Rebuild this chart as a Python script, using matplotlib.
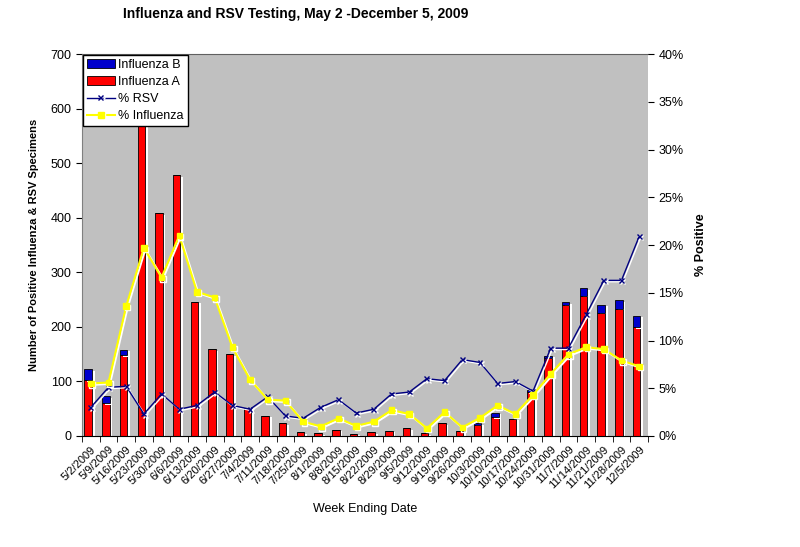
import matplotlib
matplotlib.use("Agg")
import matplotlib.pyplot as plt
import matplotlib.patheffects as pe
import numpy as np

plt.rcParams['font.family'] = ['Liberation Sans', 'DejaVu Sans']

# weekly data
weeks = ["5/2/2009", "5/9/2009", "5/16/2009", "5/23/2009", "5/30/2009", "6/6/2009",
         "6/13/2009", "6/20/2009", "6/27/2009", "7/4/2009", "7/11/2009", "7/18/2009",
         "7/25/2009", "8/1/2009", "8/8/2009", "8/15/2009", "8/22/2009", "8/29/2009",
         "9/5/2009", "9/12/2009", "9/19/2009", "9/26/2009", "10/3/2009", "10/10/2009",
         "10/17/2009", "10/24/2009", "10/31/2009", "11/7/2009", "11/14/2009",
         "11/21/2009", "11/28/2009", "12/5/2009"]
flu_a = [102, 60, 148, 590, 408, 478, 246, 159, 150, 51, 37, 23, 7, 5, 11, 4,
         7, 9, 14, 5, 23, 9, 20, 34, 31, 80, 143, 240, 257, 226, 233, 199]
flu_b = [20, 13, 10, 0, 0, 0, 0, 0, 0, 0, 0, 0, 0, 0, 0, 0,
         0, 0, 0, 0, 0, 0, 3, 8, 0, 4, 4, 5, 14, 14, 16, 21]
pct_rsv = [3.0, 5.1, 5.2, 2.3, 4.4, 2.8, 3.2, 4.6, 3.2, 2.8, 4.1, 2.1, 1.85, 3.0, 3.8, 2.4,
           2.8, 4.4, 4.6, 6.0, 5.8, 8.0, 7.7, 5.5, 5.7, 4.7, 9.2, 9.2, 12.7, 16.3, 16.3, 20.9]
pct_flu = [5.5, 5.6, 13.6, 19.7, 16.6, 21.0, 15.1, 14.5, 9.3, 5.9, 3.8, 3.7, 1.5, 1.0, 1.85, 1.05,
           1.5, 2.7, 2.3, 0.8, 2.5, 0.9, 1.9, 3.2, 2.3, 4.3, 6.5, 8.55, 9.3, 9.1, 7.9, 7.3]

x = np.arange(len(weeks))

fig = plt.figure(figsize=(8, 5.47), dpi=100)
ax = fig.add_axes([0.1025, 0.203, 0.7075, 0.698])
ax.set_facecolor('#c0c0c0')

# bars with a white drop shadow like the old Excel chart
shadow = [pe.SimplePatchShadow(offset=(2, -1), shadow_rgbFace='white', alpha=1), pe.Normal()]
b_a = ax.bar(x - 0.15, flu_a, width=0.42, color='#ff0000', edgecolor='black', linewidth=0.6,
             label='Influenza A', path_effects=shadow)
b_b = ax.bar(x - 0.15, flu_b, width=0.42, bottom=flu_a, color='#0000cc', edgecolor='black',
             linewidth=0.6, label='Influenza B', path_effects=shadow)

ax.set_xlim(-0.5, len(weeks) - 0.5)
ax.set_ylim(0, 700)
ax.set_yticks(range(0, 701, 100))
ax.set_xticks(x)
ax.set_xticklabels(weeks, rotation=45, ha='right', rotation_mode='anchor', fontsize=8)
ax.set_xticks(np.arange(-0.5, len(weeks), 1), minor=True)
ax.tick_params(axis='x', which='major', length=0, pad=6)
ax.tick_params(axis='x', which='minor', length=4, direction='out')
ax.tick_params(axis='y', length=4, direction='out', labelsize=9)
ax.spines['right'].set_visible(False)
ax.spines['top'].set_color('#606060')
ax.spines['left'].set_color('#808080')

ax2 = ax.twinx()
ax2.set_ylim(0, 40)
ax2.set_yticks(range(0, 41, 5))
ax2.set_yticklabels([f"{v}%" for v in range(0, 41, 5)], fontsize=9)
ax2.tick_params(axis='y', length=4, direction='out')
for s in ['top', 'left', 'bottom', 'right']:
    ax2.spines[s].set_visible(False)

line_shadow = [pe.SimpleLineShadow(offset=(1, -1), shadow_color='white', alpha=1), pe.Normal()]
l_rsv, = ax2.plot(x, pct_rsv, color='#000080', linewidth=1, marker='x', markersize=3.5,
                  markeredgewidth=1, label='% RSV', path_effects=line_shadow)
l_flu, = ax2.plot(x, pct_flu, color='#ffff00', linewidth=1.5, marker='s', markersize=4,
                  label='% Influenza', path_effects=line_shadow)

leg = ax2.legend([b_b, b_a, l_rsv, l_flu], ['Influenza B', 'Influenza A', '% RSV', '% Influenza'],
                 loc='upper left', bbox_to_anchor=(0.0, 1.0), fontsize=9, fancybox=False,
                 framealpha=1, edgecolor='black', borderpad=0.3, labelspacing=0.4,
                 handlelength=2.2, handletextpad=0.3, borderaxespad=0.1)
leg.get_frame().set_linewidth(1)

ax.set_ylabel("Number of Positive Influenza & RSV Specimens", fontsize=8, fontweight='bold', labelpad=8)
ax2.set_ylabel("% Positive", fontsize=9, fontweight='bold', labelpad=8)
ax.set_xlabel("Week Ending Date", fontsize=9, labelpad=9)
fig.text(0.37, 0.975, "Influenza and RSV Testing, May 2 -December 5, 2009",
         ha='center', va='center', fontsize=10, fontweight='bold')

fig.savefig("out.png", dpi=100)
